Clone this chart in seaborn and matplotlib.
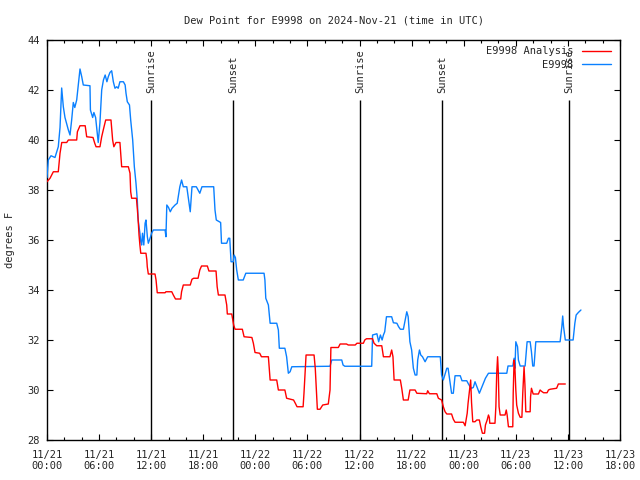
import numpy as np
import pandas as pd
import matplotlib
matplotlib.use("Agg")
import matplotlib.pyplot as plt
import seaborn as sns

# hours since 2024-11-21 00:00 UTC
obs_hours = [0.0, 0.15, 0.46, 0.92, 1.3, 1.5, 1.69, 1.88, 2.07, 2.46, 2.65, 2.84, 3.03, 3.2,
             3.42, 3.6, 3.8, 4.0, 4.18, 4.95, 5.0, 5.26, 5.4, 5.6, 5.9, 6.1, 6.3, 6.5, 6.7,
             6.9, 7.06, 7.25, 7.45, 7.64, 7.83, 8.03, 8.2, 8.4, 8.8, 9.0, 9.1, 9.25, 9.5,
             9.64, 9.87, 10.06, 10.25, 10.4, 10.5, 10.7, 10.8, 10.9, 11.0, 11.15, 11.3,
             11.4, 11.56, 11.67, 11.87, 12.05, 12.25, 13.6, 13.7, 13.8, 14.0, 14.2, 14.4,
             14.75, 15.0, 15.3, 15.5, 15.7, 16.1, 16.5, 16.7, 17.2, 17.6, 17.85, 19.2,
             19.35, 19.5, 20.0, 20.1, 20.7, 20.9, 21.05, 21.1, 21.2, 21.45, 21.55, 21.7,
             21.85, 22.04, 22.6, 22.9, 25.0, 25.1, 25.2, 25.5, 25.7, 26.46, 26.65, 26.76,
             27.4, 27.6, 27.8, 28.0, 28.2, 32.6, 32.8, 33.95, 34.1, 34.3, 37.4, 37.5,
             38.0, 38.2, 38.4, 38.6, 38.75, 38.9, 39.1, 39.7, 39.9, 40.3, 40.5, 40.7,
             41.05, 41.25, 41.44, 41.6, 41.8, 42.0, 42.2, 42.4, 42.6, 42.7, 42.9, 43.05,
             43.25, 43.55, 43.85, 45.3, 45.45, 45.65, 46.05, 46.2, 46.5, 46.6, 46.8, 47.0,
             47.6, 47.8, 48.35, 48.5, 48.7, 48.9, 49.1, 49.3, 49.5, 49.8, 50.1, 50.5,
             50.85, 52.96, 53.1, 53.65, 53.8, 53.9, 54.0, 54.2, 54.3, 54.5, 55.07, 55.3,
             55.65, 55.8, 55.95, 56.1, 56.3, 59.1, 59.3, 59.4, 59.5, 59.7, 60.6, 60.8,
             60.95, 61.2, 61.5]
obs_dewpt = [38.5, 39.2, 39.37, 39.3, 39.73, 40.5, 42.08, 41.33, 40.9, 40.4, 40.2, 40.8, 41.5,
             41.3, 41.6, 42.2, 42.84, 42.53, 42.2, 42.17, 41.2, 40.9, 41.1, 40.9, 39.9, 40.7,
             42.0, 42.4, 42.6, 42.33, 42.53, 42.7, 42.77, 42.33, 42.07, 42.13, 42.07, 42.33,
             42.33, 42.2, 41.87, 41.53, 41.4, 40.8, 40.0, 38.93, 38.27, 37.6, 36.8, 36.27,
             35.93, 35.8, 36.27, 35.8, 36.67, 36.8, 36.13, 35.87, 36.07, 36.27, 36.4, 36.4,
             36.13, 37.4, 37.3, 37.13, 37.27, 37.4, 37.47, 38.13, 38.4, 38.13, 38.13, 37.13,
             38.13, 38.13, 37.87, 38.13, 38.13, 37.2, 36.8, 36.7, 35.87, 35.87, 36.07, 36.07,
             35.73, 35.13, 35.13, 35.4, 35.3, 34.8, 34.4, 34.4, 34.67, 34.67, 34.4, 33.67,
             33.4, 32.67, 32.67, 32.4, 31.67, 31.67, 31.33, 30.67, 30.73, 30.93, 30.95, 31.2,
             31.2, 31.0, 30.95, 30.95, 32.2, 32.25, 31.93, 32.2, 32.0, 32.2, 32.33, 32.93,
             32.93, 32.69, 32.67, 32.53, 32.43, 32.43, 32.8, 33.13, 32.93, 31.93, 31.6, 30.87,
             30.6, 30.6, 31.2, 31.6, 31.4, 31.33, 31.13, 31.33, 31.33, 30.6, 30.4, 30.87,
             30.87, 30.13, 29.87, 29.87, 30.57, 30.57, 30.37, 30.37, 30.27, 30.15, 30.07,
             30.1, 30.33, 30.15, 29.87, 30.13, 30.47, 30.67, 30.67, 30.96, 30.96, 31.27,
             30.87, 31.93, 31.73, 31.2, 30.96, 30.96, 31.93, 31.93, 31.53, 30.96, 30.96,
             31.93, 31.93, 32.53, 32.96, 32.53, 32.0, 32.0, 32.67, 33.0, 33.1, 33.2]

ana_hours = [0.0, 0.35, 0.54, 0.73, 1.3, 1.5, 1.7, 2.27, 2.46, 3.42, 3.5, 3.8, 4.4, 4.57, 5.3,
             5.5, 5.65, 6.1, 6.3, 6.5, 6.76, 7.37, 7.56, 7.7, 7.95, 8.4, 8.5, 8.6, 9.37,
             9.56, 9.64, 9.75, 10.3, 10.4, 10.5, 10.6, 10.7, 10.8, 11.4, 11.5, 11.55, 11.67,
             12.44, 12.56, 12.7, 13.6, 13.7, 14.37, 14.55, 14.8, 15.4, 15.5, 15.7, 16.5,
             16.7, 16.9, 17.4, 17.6, 17.8, 18.47, 18.65, 19.47, 19.6, 19.74, 20.5, 20.7,
             20.77, 21.28, 21.5, 21.66, 22.5, 22.7, 23.6, 23.77, 23.96, 24.5, 24.7, 25.5,
             25.7, 26.46, 26.65, 27.4, 27.6, 28.4, 28.6, 28.8, 29.5, 29.6, 29.84, 30.76,
             30.9, 31.07, 31.14, 31.45, 31.76, 32.4, 32.6, 32.7, 33.56, 33.76, 34.5, 34.7,
             35.5, 35.7, 36.44, 36.6, 36.8, 37.5, 37.67, 37.98, 38.56, 38.75, 39.5, 39.7,
             39.85, 39.98, 40.7, 40.86, 41.05, 41.6, 41.8, 42.4, 42.6, 43.74, 43.85, 44.05,
             44.9, 45.08, 45.45, 45.65, 45.85, 46.05, 46.6, 46.8, 47.0, 47.96, 48.16, 48.4,
             48.5, 48.7, 48.8, 48.9, 49.04, 49.3, 49.5, 49.8, 49.96, 50.15, 50.4, 50.5, 50.7,
             50.85, 50.95, 51.0, 51.6, 51.7, 51.8, 51.9, 51.98, 52.07, 52.2, 52.76, 52.9,
             53.0, 53.15, 53.65, 53.7, 53.8, 53.9, 54.0, 54.1, 54.3, 54.5, 54.7, 54.8, 54.95,
             55.05, 55.15, 55.65, 55.7, 55.8, 56.0, 56.6, 56.8, 56.95, 57.2, 57.6, 57.76,
             57.95, 58.7, 58.9, 59.7]
ana_dewpt = [38.33, 38.47, 38.6, 38.73, 38.73, 39.47, 39.9, 39.9, 40.0, 40.0, 40.33, 40.57,
             40.57, 40.13, 40.1, 39.87, 39.73, 39.73, 40.13, 40.43, 40.8, 40.8, 40.0, 39.73,
             39.9, 39.9, 39.4, 38.93, 38.93, 38.67, 37.93, 37.67, 37.67, 37.27, 36.8, 36.2,
             35.8, 35.47, 35.47, 35.2, 34.93, 34.64, 34.64, 34.4, 33.89, 33.89, 33.93, 33.93,
             33.8, 33.64, 33.64, 33.93, 34.2, 34.2, 34.43, 34.47, 34.47, 34.8, 34.96, 34.96,
             34.76, 34.76, 34.13, 33.8, 33.8, 33.4, 33.04, 33.04, 32.6, 32.43, 32.43, 32.13,
             32.1, 31.87, 31.5, 31.47, 31.33, 31.33, 30.4, 30.4, 30.0, 30.0, 29.67, 29.6,
             29.47, 29.33, 29.33, 29.87, 31.4, 31.4, 30.87, 29.73, 29.23, 29.23, 29.4, 29.44,
             30.0, 31.7, 31.7, 31.84, 31.84, 31.8, 31.8, 31.87, 31.87, 32.0, 32.05, 32.05,
             31.87, 31.77, 31.77, 31.33, 31.33, 31.6, 31.33, 30.4, 30.4, 30.07, 29.6, 29.6,
             30.0, 30.0, 29.87, 29.85, 29.97, 29.85, 29.85, 29.67, 29.6, 29.33, 29.13, 29.04,
             29.04, 28.83, 28.71, 28.71, 28.57, 29.07, 29.47, 30.07, 30.4, 29.5, 28.73, 28.73,
             28.8, 28.8, 28.53, 28.27, 28.27, 28.6, 28.8, 29.0, 28.9, 28.67, 28.67, 29.33,
             30.67, 31.33, 30.73, 29.33, 29.0, 29.0, 29.2, 29.0, 28.53, 28.53, 29.87, 31.2,
             30.87, 30.0, 29.4, 29.07, 28.91, 28.91, 29.87, 30.93, 30.2, 29.13, 29.13, 29.73,
             30.07, 29.84, 29.84, 30.0, 29.95, 29.89, 29.89, 30.0, 30.03, 30.07, 30.24, 30.24]

sun_hours = [11.98, 21.43, 36.06, 45.5, 60.14]
sun_labels = ["Sunrise", "Sunset", "Sunrise", "Sunset", "Sunrise"]

tick_hours = list(range(0, 67, 6))
tick_labels = ["11/21\n00:00", "11/21\n06:00", "11/21\n12:00", "11/21\n18:00",
               "11/22\n00:00", "11/22\n06:00", "11/22\n12:00", "11/22\n18:00",
               "11/23\n00:00", "11/23\n06:00", "11/23\n12:00", "11/23\n18:00"]

sns.set_style("ticks")
plt.rcParams["font.family"] = ["DejaVu Sans Mono"]
plt.rcParams["font.size"] = 7.5

ana = pd.DataFrame({"hour": ana_hours, "dewpt": ana_dewpt})
obs = pd.DataFrame({"hour": obs_hours, "dewpt": obs_dewpt})

fig = plt.figure(figsize=(6.4, 4.8), dpi=100)
ax = fig.add_axes([47 / 640, 40 / 480, 573 / 640, 400 / 480])

sns.lineplot(data=ana, x="hour", y="dewpt", ax=ax, color="#ff0000", lw=1.0,
             estimator=None, sort=False, label="E9998 Analysis", zorder=4)
sns.lineplot(data=obs, x="hour", y="dewpt", ax=ax, color="#0a80ff", lw=1.0,
             estimator=None, sort=False, label="E9998", zorder=3)

# sunrise / sunset markers
ax.vlines(sun_hours, 28, 41.6, color="black", lw=1.0, zorder=2)
for t, s in zip(sun_hours, sun_labels):
    ax.text(t, 41.9, s, rotation=90, ha="center", va="bottom", fontsize=7.5)

ax.set_xlim(0, 66)
ax.set_ylim(28, 44)
ax.set_xticks(tick_hours)
ax.set_xticklabels(tick_labels)
ax.set_xticks(range(0, 67, 2), minor=True)
ax.set_yticks(range(28, 45, 2))
ax.tick_params(which="both", direction="in", top=True, right=True, color="black")
ax.tick_params(which="major", length=4.5, width=0.8)
ax.tick_params(which="minor", length=2.5, width=0.8)
ax.tick_params(axis="x", pad=7)
ax.tick_params(axis="y", pad=5)
for sp in ax.spines.values():
    sp.set_color("black")
    sp.set_linewidth(1.0)

ax.set_xlabel("")
ax.set_ylabel("degrees F", labelpad=9)
ax.set_title("Dew Point for E9998 on 2024-Nov-21 (time in UTC)", pad=12, fontsize=7.5)

ax.legend(loc="upper right", bbox_to_anchor=(0.995, 1.0), frameon=False, markerfirst=False,
          handlelength=2.8, handletextpad=0.8, labelspacing=0.35, borderaxespad=0.2,
          fontsize=7.5)

fig.savefig("out.png", dpi=100)
